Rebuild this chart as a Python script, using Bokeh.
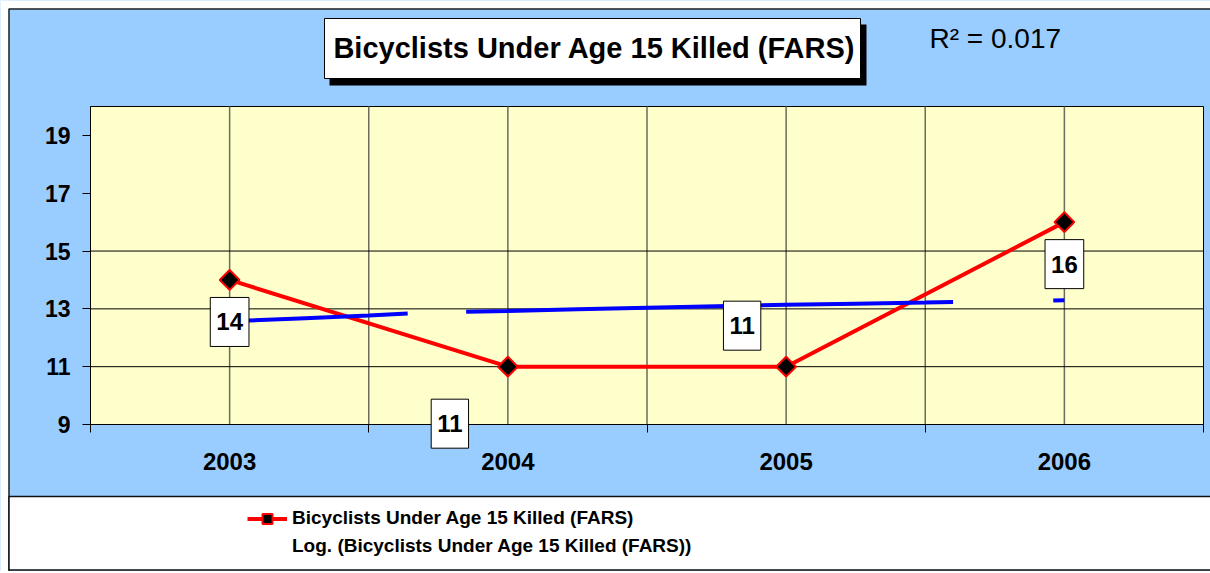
import numpy as np
from bokeh.plotting import figure
from bokeh.models import (Range1d, FixedTicker, Label, BoxAnnotation,
                          Legend, LegendItem)
from bokeh.embed import file_html
from bokeh.resources import INLINE

# ---------------- data ----------------
years = [2003, 2004, 2005, 2006]
year_labels = ["2003", "2004", "2005", "2006"]
killed = [14, 11, 11, 16]

# logarithmic trendline (gaps where it is not drawn)
trend_x = [2003.0, 2003.25, 2003.5, 2003.64, np.nan,
           2003.85, 2004.0, 2004.25, 2004.5, 2004.75, 2005.0, 2005.25, 2005.5, 2005.6, np.nan,
           2005.96, 2006.0]
trend_y = [12.57, 12.67, 12.77, 12.84, np.nan,
           12.90, 12.93, 12.99, 13.04, 13.09, 13.14, 13.18, 13.22, 13.24, np.nan,
           13.29, 13.30]

y_ticks = [9, 11, 13, 15, 17, 19]
y_grid = [11, 13, 15]
title_text = "Bicyclists Under Age 15 Killed (FARS)"
r2_text = "R\u00b2 = 0.017"
legend_labels = ["Bicyclists Under Age 15 Killed (FARS)",
                 "Log. (Bicyclists Under Age 15 Killed (FARS))"]

# ---------------- styles / layout ----------------
BLUE_BG = "#99CCFF"
PLOT_BG = "#FFFFCC"
FONT = "Liberation Sans"
W = 1210
H = 571
FL, FR, FT, FB = 90, 1203, 106, 424   # plot-area edges in canvas pixels
X0, X1 = 2002.5, 2006.5
Y0, Y1 = 9, 20
PPX = (FR - FL) / (X1 - X0)
PPY = (FB - FT) / (Y1 - Y0)
LABEL_DX = [0, -58, -44, 0]
LABEL_DY = [-42, -57, 41, -42]


def xd(px):
    return X0 + (px - FL) / PPX


def yd(py):
    return Y1 - (py - FT) / PPY


def box(l, r, t, b, **kw):
    kw.setdefault("line_dash", "solid")
    return BoxAnnotation(left=xd(l), right=xd(r), top=yd(t), bottom=yd(b), **kw)


# the frame covers the whole canvas; axes are pinned inside it
p = figure(width=W, height=H,
           x_range=Range1d(xd(0), xd(W)), y_range=Range1d(yd(H), yd(0)),
           output_backend="svg", toolbar_location=None, min_border=0)
p.background_fill_color = BLUE_BG
p.border_fill_color = BLUE_BG
p.outline_line_alpha = 0
p.grid.visible = False

# white page margin and outer chart border
p.add_layout(box(0, W, 0, 8, fill_color="white", fill_alpha=1, line_alpha=0))
p.add_layout(box(0, 8, 0, H, fill_color="white", fill_alpha=1, line_alpha=0))
p.add_layout(box(8.5, W + 10, 8.5, H + 10, fill_alpha=0, line_color="#222222",
                 line_alpha=1, line_width=1.5))

# plot area
p.add_layout(BoxAnnotation(left=X0, right=X1, bottom=Y0, top=Y1, level="underlay",
                           fill_color=PLOT_BG, fill_alpha=1, line_color="black",
                           line_alpha=1, line_width=1, line_dash="solid"))

bounds = [y - 0.5 for y in years] + [years[-1] + 0.5]
vgrid = sorted(years + bounds[1:-1])
p.segment(x0=vgrid, y0=[Y0] * len(vgrid), x1=vgrid, y1=[Y1] * len(vgrid),
          line_color="#6B6B5E", line_width=1.5)
p.segment(x0=[X0] * len(y_grid), y0=y_grid, x1=[X1] * len(y_grid), y1=y_grid,
          line_color="black", line_width=1)

# axes
p.xaxis.fixed_location = Y0
p.xaxis.bounds = (X0, X1)
p.xaxis.ticker = FixedTicker(ticks=years, minor_ticks=bounds)
p.xaxis.major_label_overrides = {y: lab for y, lab in zip(years, year_labels)}
p.xaxis.major_tick_out = 0
p.xaxis.major_tick_in = 0
p.xaxis.minor_tick_out = 8
p.xaxis.minor_tick_in = 0
p.xaxis.minor_tick_line_color = "black"
p.xaxis.major_label_standoff = 20
p.xaxis.major_label_text_font_size = "24px"

p.yaxis.fixed_location = X0
p.yaxis.bounds = (Y0, Y1)
p.yaxis.ticker = FixedTicker(ticks=y_ticks, minor_ticks=[])
p.yaxis.major_tick_out = 8
p.yaxis.major_tick_in = 0
p.yaxis.major_label_standoff = 12
p.yaxis.major_label_text_font_size = "23px"

for ax in (p.xaxis, p.yaxis):
    ax.axis_line_color = "black"
    ax.major_tick_line_color = "black"
    ax.major_label_text_font = FONT
    ax.major_label_text_font_style = "bold"
    ax.major_label_text_color = "black"

# title box with shadow, R^2
p.add_layout(box(329, 866, 24, 85, fill_color="black", fill_alpha=1, line_alpha=0))
p.add_layout(box(324, 860, 18, 78, fill_color="white", fill_alpha=1,
                 line_color="black", line_alpha=1, line_width=1))
p.add_layout(Label(x=xd(594), y=yd(47), text=title_text,
                   text_align="center", text_baseline="middle", text_font=FONT,
                   text_font_style="bold", text_font_size="29px", text_color="black"))
p.add_layout(Label(x=xd(929), y=yd(38), text=r2_text,
                   text_align="left", text_baseline="middle", text_font=FONT,
                   text_font_style="normal", text_font_size="28px", text_color="black"))

# series
r_line = p.line(years, killed, line_color="#FF0000", line_width=4)
r_trend = p.line(trend_x, trend_y, line_color="#0000FF", line_width=4)
r_mark = p.scatter(years, killed, marker="square", angle=np.pi / 4, size=14,
                   fill_color="black", line_color="#FF0000", line_width=2)
r_dummy = p.line(x=[], y=[], line_alpha=0)

# data labels
for xv, yv, dx, dy in zip(years, killed, LABEL_DX, LABEL_DY):
    p.add_layout(Label(x=xv, y=yv, text=str(yv), x_offset=dx, y_offset=dy,
                       text_align="center", text_baseline="middle", text_font=FONT,
                       text_font_style="bold", text_font_size="24px", text_color="black",
                       background_fill_color="white", border_line_color="black",
                       border_line_width=1, padding=(6, 16)))

# legend band
p.add_layout(box(8.5, W + 10, 496, 569.5, fill_color="white", fill_alpha=1,
                 line_color="#111111", line_alpha=1, line_width=1.5))
legend = Legend(items=[LegendItem(label=legend_labels[0], renderers=[r_line, r_mark]),
                       LegendItem(label=legend_labels[1], renderers=[r_dummy])],
                location=(247, H - 558.5), padding=0, margin=0, spacing=3,
                glyph_width=40, glyph_height=25, label_height=25, label_standoff=5,
                label_text_font=FONT, label_text_font_style="bold",
                label_text_font_size="19px", label_text_color="black",
                border_line_alpha=0, background_fill_alpha=0)
p.add_layout(legend)

open("out.html", "w").write(file_html(p, INLINE))
